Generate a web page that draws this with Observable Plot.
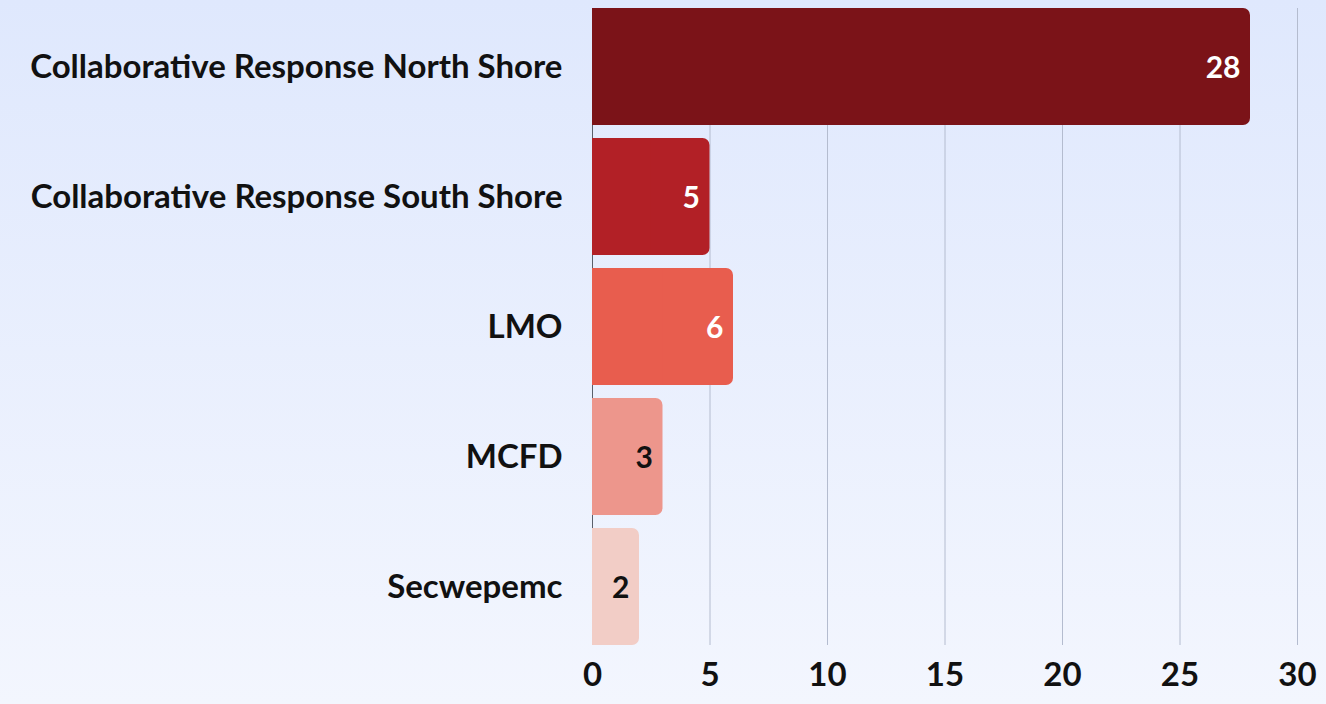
<!DOCTYPE html>
<html>
<head>
<meta charset="utf-8">
<script src="https://cdn.jsdelivr.net/npm/d3@7"></script>
<script src="https://cdn.jsdelivr.net/npm/@observablehq/plot@0.6"></script>
<style>
  html, body { margin: 0; padding: 0; }
  body { width: 1326px; height: 704px; background: linear-gradient(180deg, #dfe8fd 0%, #f3f6fe 100%); overflow: hidden; }
  #chart svg { display: block; }
</style>
</head>
<body>
<div id="chart"></div>
<script>
const categories = [
  "Collaborative Response North Shore",
  "Collaborative Response South Shore",
  "LMO",
  "MCFD",
  "Secwepemc"
];
const values = [28, 5, 6, 3, 2];
const barColors = ["#7b1318", "#b22026", "#e85d4e", "#ed968c", "#f2cdc6"];
const labelColors = ["#ffffff", "#ffffff", "#ffffff", "#111111", "#111111"];
const xTicks = [0, 5, 10, 15, 20, 25, 30];

const data = categories.map((c, i) => ({
  category: c, value: values[i], color: barColors[i], labelColor: labelColors[i]
}));

const font = "Lato, 'Noto Sans', sans-serif";

const chart = Plot.plot({
  width: 1326,
  height: 704,
  marginLeft: 592,
  marginRight: 29,
  marginTop: 8,
  marginBottom: 59,
  style: { background: "transparent", fontFamily: font, color: "#111" },
  x: { domain: [0, 30], axis: null },
  y: { domain: categories, paddingInner: 0.1, paddingOuter: 0, axis: null },
  marks: [
    Plot.gridX(xTicks, { stroke: "#b4bccf", strokeOpacity: 1, strokeWidth: 1 }),
    Plot.ruleX([0], { stroke: "#5a5f6a", strokeWidth: 1 }),
    Plot.barX(data, { x1: 0, x2: "value", y: "category", fill: "color", rx: 7 }),
    Plot.barX(data, { x1: 0, x2: d => d.value / 2, y: "category", fill: "color" }),
    Plot.text(data, {
      x: "value", y: "category", text: d => String(d.value),
      textAnchor: "end", dx: -10, dy: 1, fill: "labelColor",
      fontSize: 30, fontWeight: 700, fontFamily: font
    }),
    Plot.axisX(xTicks, {
      tickSize: 0, tickPadding: 17, fontSize: 33, fontWeight: 700,
      fill: "#111", label: null, fontFamily: font
    }),
    Plot.axisY({
      tickSize: 0, tickPadding: 30, fontSize: 33, fontWeight: 700,
      fill: "#111", label: null, fontFamily: font
    })
  ]
});

document.getElementById("chart").appendChild(chart);
</script>
</body>
</html>
